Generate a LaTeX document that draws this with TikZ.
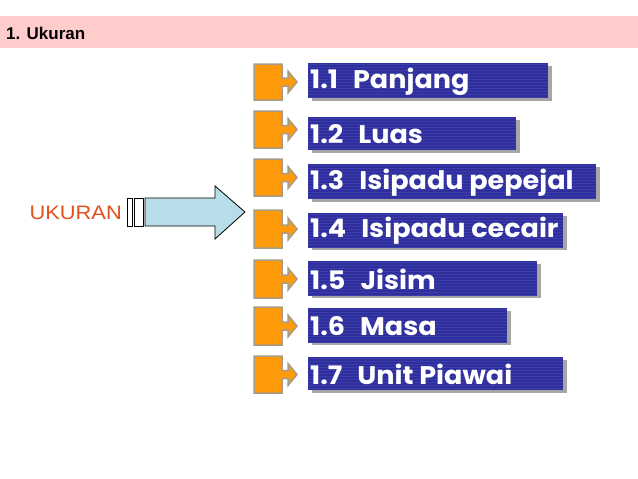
\documentclass[tikz,border=0pt]{standalone}
\usepackage{fontspec}
\setmainfont{Liberation Sans}
\newfontfamily\gothic{Poppins}[FakeStretch=1.06]
\newfontfamily\widesans{Liberation Sans}[FakeStretch=1.12]
\definecolor{headpink}{HTML}{FFCCCC}
\definecolor{ukred}{HTML}{E4501E}
\definecolor{arrowblue}{HTML}{B7DEE8}
\definecolor{barblue}{HTML}{2E2E9C}
\definecolor{stripeblue}{HTML}{3C3CAA}
\definecolor{shadowgray}{HTML}{A6A6A6}
\definecolor{blockorange}{HTML}{FF9A0A}
\definecolor{blockedge}{HTML}{A89C84}
\tikzset{
  bluebar/.style={fill=barblue, path picture={
    \foreach \k in {1.5,4.5,...,40}
      \draw[stripeblue, line width=0.8pt]
        ([yshift=-\k pt]path picture bounding box.north west) --
        ([yshift=-\k pt]path picture bounding box.north east);}},
  bartext/.style={anchor=west, inner sep=0pt, text=white, font=\gothic\bfseries\fontsize{25.5}{25.5}\selectfont},
  orangeblock/.style={fill=blockorange, draw=blockedge, line width=1.5pt, line join=miter},
  barshadow/.style={fill=shadowgray}
}
\newcommand{\rowitem}[8]{%
  % #1 name, #2 block top, #3 block bottom, #4 bar top, #5 bar bottom, #6 bar right, #7 number, #8 text
  \pgfmathsetmacro{\cc}{(#2+#3)/2}%
  \pgfmathsetmacro{\ct}{(#4+#5)/2}%
  \draw[orangeblock] (254,#2) -- (282,#2) -- (282,\cc-4) -- (288,\cc-4) -- (288,\cc-11)
     -- (297,\cc) -- (288,\cc+11) -- (288,\cc+4) -- (282,\cc+4) -- (282,#3) -- (254,#3) -- cycle;
  \fill[barshadow] (312,#4+3) rectangle (#6+4,#5+3);
  \path[bluebar] (308,#4) rectangle (#6,#5);
  \node[bartext] (#1) at (310,\ct+1) {#7\hspace{15pt}#8};
}
\begin{document}
\begin{tikzpicture}[x=1pt,y=-1pt]
\useasboundingbox (0,0) rectangle (638,479);
\fill[white] (0,0) rectangle (638,479);
% header
\fill[headpink] (0,16) rectangle (638,48);
\node[anchor=west, inner sep=0pt, font=\bfseries\fontsize{17}{17}\selectfont] (title) at (6,33) {1. Ukuran};
% UKURAN label and arrow
\node[anchor=east, inner sep=0pt, text=ukred, font=\widesans\fontsize{19.5}{19.5}\selectfont] (uk) at (122,213) {UKURAN};
\draw[fill=white, line width=0.8pt] (127,198) rectangle (132,226);
\draw[fill=white, line width=0.8pt] (134,198) rectangle (143,226);
\draw[fill=arrowblue, line width=0.8pt, line join=miter] (145,198) -- (215,198) -- (215,186) -- (245,212) -- (215,239) -- (215,226) -- (145,226) -- cycle;
% rows
\rowitem{r1}{64}{100}{63}{98}{548}{1.1}{Panjang}
\rowitem{r2}{111}{148}{117}{150}{516}{1.2}{Luas}
\rowitem{r3}{159}{196}{164}{199}{596}{1.3}{Isipadu pepejal}
\rowitem{r4}{210}{248}{213}{247}{563}{1.4}{Isipadu cecair}
\rowitem{r5}{260}{298}{261}{295}{537}{1.5}{Jisim}
\rowitem{r6}{307}{345}{308}{342}{507}{1.6}{Masa}
\rowitem{r7}{356}{393}{357}{390}{563}{1.7}{Unit Piawai}
\end{tikzpicture}
\end{document}
